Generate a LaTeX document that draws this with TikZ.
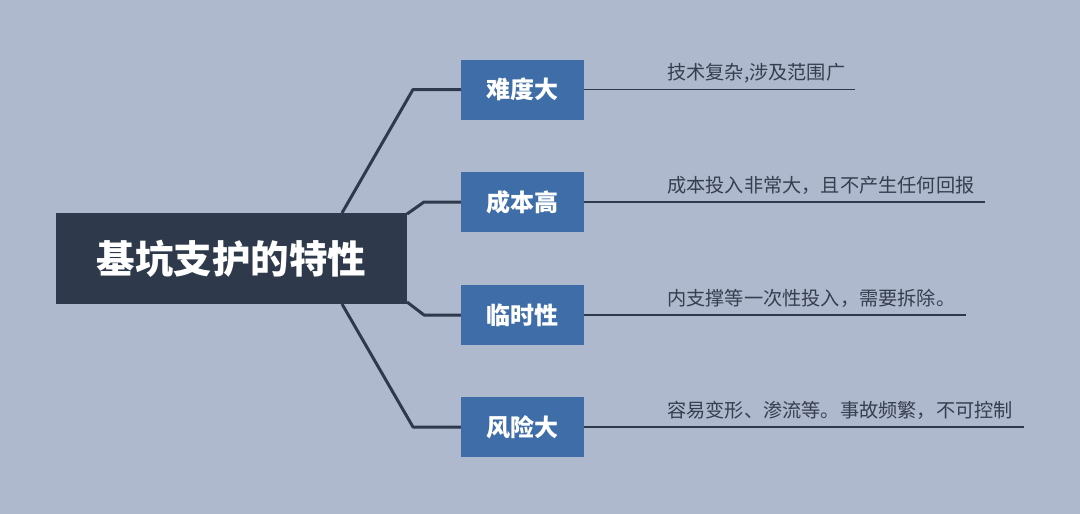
\documentclass[tikz,border=0pt]{standalone}
\usepackage{fontspec}
\newfontfamily\cjk{Noto Sans CJK SC}
\definecolor{bgc}{HTML}{AEB9CE}
\definecolor{rootc}{HTML}{2E3A4B}
\definecolor{topicc}{HTML}{3E6DA8}
\definecolor{linec}{HTML}{2E3A4B}
\definecolor{leafc}{HTML}{363F4E}
\tikzset{
  rootbox/.style={fill=rootc, text=white, inner sep=0pt, minimum width=351pt, minimum height=91pt, font=\cjk\bfseries\fontsize{38.5}{40}\selectfont},
  topicbox/.style={fill=topicc, text=white, inner sep=0pt, minimum width=123pt, minimum height=60pt, font=\cjk\bfseries\fontsize{24}{26}\selectfont},
  leaftext/.style={anchor=west, inner sep=0pt, text=leafc, font=\cjk\fontsize{19.2}{20}\selectfont},
  branch/.style={draw=linec, line width=3pt, line join=round},
  leafline/.style={draw=linec, line width=1.5pt}
}
\begin{document}
\begin{tikzpicture}[x=1pt,y=-1pt]
\fill[bgc] (0,0) rectangle (1080,514);
\useasboundingbox (0,0) rectangle (1080,514);
\node[rootbox] (root) at (231.5,258.5) {基坑支护的特性};
\node[topicbox] (t1) at (522.5,89.5) {难度大};
\node[topicbox] (t2) at (522.5,202) {成本高};
\node[topicbox] (t3) at (522.5,315) {临时性};
\node[topicbox] (t4) at (522.5,427) {风险大};
% branch coordinates
\coordinate (r1) at (342,213);
\coordinate (r2) at (407,214);
\coordinate (r3) at (407,302);
\coordinate (r4) at (342,304);
\draw[branch] (r1) -- (413,89.5) -- (t1.west);
\draw[branch] (r2) -- (424,202) -- (t2.west);
\draw[branch] (r3) -- (424,315) -- (t3.west);
\draw[branch] (r4) -- (413,427) -- (t4.west);
% leaves
\coordinate (e1) at (855,89.5);
\coordinate (e2) at (985,202);
\coordinate (e3) at (966,315);
\coordinate (e4) at (1024,427);
\draw[leafline] (t1.east) -- (e1);
\draw[leafline] (t2.east) -- (e2);
\draw[leafline] (t3.east) -- (e3);
\draw[leafline] (t4.east) -- (e4);
\node[leaftext] (l1) at (667,73) {技术复杂,涉及范围广};
\node[leaftext] (l2) at (667,185.5) {成本投入非常大，且不产生任何回报};
\node[leaftext] (l3) at (667,298) {内支撑等一次性投入，需要拆除。};
\node[leaftext] (l4) at (667,410) {容易变形、渗流等。事故频繁，不可控制};
\end{tikzpicture}
\end{document}
